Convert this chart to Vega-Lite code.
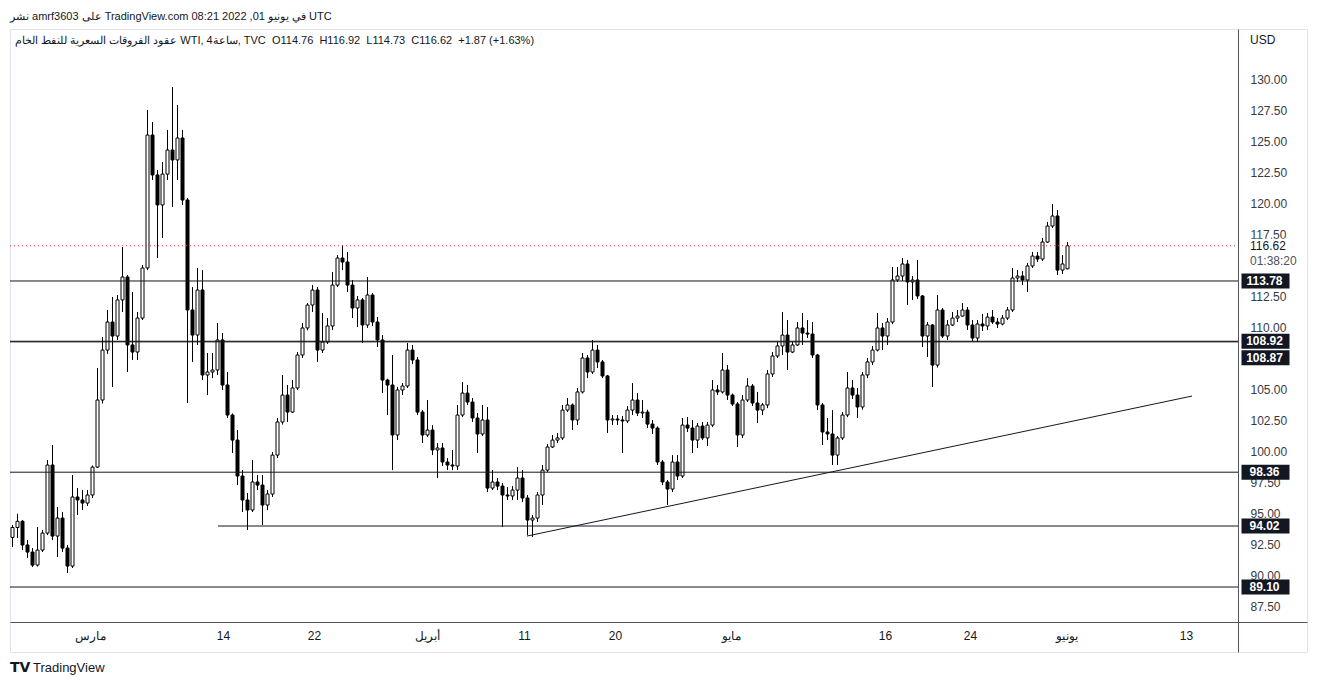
{
  "$schema": "https://vega.github.io/schema/vega-lite/v6.json",
  "width": 1297,
  "height": 623,
  "autosize": {"type": "none"},
  "padding": {"left": 10, "top": 29, "right": 11, "bottom": 34},
  "background": "#ffffff",
  "config": {
    "view": {"stroke": "#e0e3eb", "strokeWidth": 1},
    "font": "Liberation Sans",
    "text": {"font": "Liberation Sans"},
    "axis": {"labelOverlap": false, "labelBound": false}
  },
  "title": {
    "text": "نشر amrf3603 على TradingView.com في يونيو 01, 2022 08:21 UTC",
    "anchor": "start",
    "frame": "group",
    "fontSize": 11,
    "fontWeight": "normal",
    "font": "Liberation Sans",
    "color": "#131722",
    "offset": -2,
    "baseline": "alphabetic"
  },
  "datasets": {
    "candles": [
      {"t":0,"o":93.1,"h":94.1,"l":92.32,"c":93.9},
      {"t":1,"o":93.9,"h":95.0,"l":93.05,"c":94.4},
      {"t":2,"o":94.4,"h":94.5,"l":92.08,"c":92.49},
      {"t":3,"o":92.49,"h":92.89,"l":91.44,"c":91.92},
      {"t":4,"o":91.92,"h":92.24,"l":90.71,"c":90.87},
      {"t":5,"o":90.87,"h":93.94,"l":90.75,"c":92.08},
      {"t":6,"o":92.08,"h":93.7,"l":91.92,"c":93.45},
      {"t":7,"o":93.45,"h":99.34,"l":93.29,"c":98.94},
      {"t":8,"o":98.94,"h":100.55,"l":92.89,"c":93.21},
      {"t":9,"o":93.21,"h":95.55,"l":91.52,"c":94.66},
      {"t":10,"o":94.66,"h":95.15,"l":91.92,"c":92.24},
      {"t":11,"o":92.24,"h":92.49,"l":90.23,"c":90.79},
      {"t":12,"o":90.79,"h":98.13,"l":90.63,"c":96.36},
      {"t":13,"o":96.36,"h":97.08,"l":94.91,"c":96.12},
      {"t":14,"o":96.12,"h":96.92,"l":95.31,"c":95.87},
      {"t":15,"o":95.87,"h":96.92,"l":95.63,"c":96.52},
      {"t":16,"o":96.52,"h":98.9,"l":96.28,"c":98.77},
      {"t":17,"o":98.77,"h":106.76,"l":98.7,"c":104.18},
      {"t":18,"o":104.18,"h":109.26,"l":103.9,"c":108.21},
      {"t":19,"o":108.21,"h":111.44,"l":107.9,"c":110.47},
      {"t":20,"o":110.47,"h":112.49,"l":105.23,"c":109.34},
      {"t":21,"o":109.34,"h":112.65,"l":109.02,"c":112.25},
      {"t":22,"o":112.25,"h":116.52,"l":111.28,"c":114.1},
      {"t":23,"o":114.1,"h":114.26,"l":106.44,"c":108.62},
      {"t":24,"o":108.62,"h":112.89,"l":107.41,"c":108.05},
      {"t":25,"o":108.05,"h":111.28,"l":107.41,"c":110.79},
      {"t":26,"o":110.79,"h":115.07,"l":110.63,"c":114.83},
      {"t":27,"o":114.83,"h":127.57,"l":114.66,"c":125.55},
      {"t":28,"o":125.55,"h":126.6,"l":121.92,"c":122.33},
      {"t":29,"o":122.33,"h":122.73,"l":115.63,"c":119.91},
      {"t":30,"o":119.91,"h":123.37,"l":117.25,"c":122.4},
      {"t":31,"o":122.4,"h":125.96,"l":121.92,"c":124.34},
      {"t":32,"o":124.34,"h":129.42,"l":119.75,"c":123.54},
      {"t":33,"o":123.54,"h":127.97,"l":121.92,"c":125.31},
      {"t":34,"o":125.31,"h":125.96,"l":119.91,"c":120.31},
      {"t":35,"o":120.31,"h":120.47,"l":103.94,"c":111.44},
      {"t":36,"o":111.44,"h":113.29,"l":107.25,"c":109.42},
      {"t":37,"o":109.42,"h":114.83,"l":108.62,"c":113.05},
      {"t":38,"o":113.05,"h":114.66,"l":105.79,"c":106.2},
      {"t":39,"o":106.2,"h":107.97,"l":104.58,"c":106.44},
      {"t":40,"o":106.44,"h":107.97,"l":105.95,"c":106.6},
      {"t":41,"o":106.6,"h":110.39,"l":106.2,"c":109.02},
      {"t":42,"o":109.02,"h":109.58,"l":104.99,"c":105.39},
      {"t":43,"o":105.39,"h":106.44,"l":102.73,"c":102.97},
      {"t":44,"o":102.97,"h":103.1,"l":99.91,"c":100.95},
      {"t":45,"o":100.95,"h":101.76,"l":97.32,"c":98.05},
      {"t":46,"o":98.05,"h":98.53,"l":95.15,"c":96.12},
      {"t":47,"o":96.12,"h":96.68,"l":93.7,"c":95.31},
      {"t":48,"o":95.31,"h":99.34,"l":95.15,"c":97.57},
      {"t":49,"o":97.57,"h":98.13,"l":96.92,"c":97.32},
      {"t":50,"o":97.32,"h":98.13,"l":94.1,"c":95.71},
      {"t":51,"o":95.71,"h":96.92,"l":95.3,"c":96.6},
      {"t":52,"o":96.6,"h":99.99,"l":96.36,"c":99.74},
      {"t":53,"o":99.74,"h":102.73,"l":99.5,"c":102.41},
      {"t":54,"o":102.41,"h":106.2,"l":102.2,"c":104.58},
      {"t":55,"o":104.58,"h":105.39,"l":102.41,"c":103.21},
      {"t":56,"o":103.21,"h":105.79,"l":103.13,"c":105.15},
      {"t":57,"o":105.15,"h":108.05,"l":104.99,"c":107.81},
      {"t":58,"o":107.81,"h":110.39,"l":107.57,"c":109.99},
      {"t":59,"o":109.99,"h":112.0,"l":109.8,"c":111.84},
      {"t":60,"o":111.84,"h":113.45,"l":111.28,"c":113.05},
      {"t":61,"o":113.05,"h":113.29,"l":107.25,"c":108.21},
      {"t":62,"o":108.21,"h":111.2,"l":107.97,"c":108.86},
      {"t":63,"o":108.86,"h":110.79,"l":108.7,"c":110.15},
      {"t":64,"o":110.15,"h":114.5,"l":109.83,"c":113.45},
      {"t":65,"o":113.45,"h":115.87,"l":113.3,"c":115.63},
      {"t":66,"o":115.63,"h":116.68,"l":114.66,"c":115.31},
      {"t":67,"o":115.31,"h":116.12,"l":112.89,"c":113.45},
      {"t":68,"o":113.45,"h":113.86,"l":110.79,"c":111.6},
      {"t":69,"o":111.6,"h":112.57,"l":110.07,"c":112.25},
      {"t":70,"o":112.25,"h":112.41,"l":108.78,"c":110.23},
      {"t":71,"o":110.23,"h":114.1,"l":110.0,"c":112.65},
      {"t":72,"o":112.65,"h":112.81,"l":110.15,"c":110.47},
      {"t":73,"o":110.47,"h":110.87,"l":108.45,"c":109.02},
      {"t":74,"o":109.02,"h":109.42,"l":104.74,"c":105.79},
      {"t":75,"o":105.79,"h":105.9,"l":102.97,"c":105.39},
      {"t":76,"o":105.39,"h":107.81,"l":98.53,"c":101.36},
      {"t":77,"o":101.36,"h":105.23,"l":100.95,"c":104.99},
      {"t":78,"o":104.99,"h":105.55,"l":104.58,"c":105.31},
      {"t":79,"o":105.31,"h":108.78,"l":105.15,"c":108.21},
      {"t":80,"o":108.21,"h":108.62,"l":107.08,"c":107.41},
      {"t":81,"o":107.41,"h":107.65,"l":102.97,"c":103.21},
      {"t":82,"o":103.21,"h":103.37,"l":100.71,"c":101.36},
      {"t":83,"o":101.36,"h":104.18,"l":101.2,"c":101.76},
      {"t":84,"o":101.76,"h":102.16,"l":99.74,"c":100.15},
      {"t":85,"o":100.15,"h":100.71,"l":97.89,"c":100.31},
      {"t":86,"o":100.31,"h":100.71,"l":98.86,"c":99.18},
      {"t":87,"o":99.18,"h":99.5,"l":98.53,"c":98.94},
      {"t":88,"o":98.94,"h":100.15,"l":98.53,"c":98.86},
      {"t":89,"o":98.86,"h":103.78,"l":98.53,"c":102.97},
      {"t":90,"o":102.97,"h":105.63,"l":102.8,"c":104.74},
      {"t":91,"o":104.74,"h":105.39,"l":103.78,"c":104.02},
      {"t":92,"o":104.02,"h":104.34,"l":102.41,"c":102.73},
      {"t":93,"o":102.73,"h":103.13,"l":99.91,"c":101.44},
      {"t":94,"o":101.44,"h":103.78,"l":101.28,"c":102.57},
      {"t":95,"o":102.57,"h":103.62,"l":96.76,"c":97.08},
      {"t":96,"o":97.08,"h":98.53,"l":96.92,"c":97.57},
      {"t":97,"o":97.57,"h":97.89,"l":96.92,"c":97.24},
      {"t":98,"o":97.24,"h":97.49,"l":93.94,"c":96.52},
      {"t":99,"o":96.52,"h":97.16,"l":96.12,"c":96.44},
      {"t":100,"o":96.44,"h":97.24,"l":96.12,"c":96.92},
      {"t":101,"o":96.92,"h":98.77,"l":96.12,"c":97.89},
      {"t":102,"o":97.89,"h":98.53,"l":95.95,"c":96.28},
      {"t":103,"o":96.28,"h":96.52,"l":93.29,"c":94.5},
      {"t":104,"o":94.5,"h":94.91,"l":93.13,"c":94.66},
      {"t":105,"o":94.66,"h":96.76,"l":94.34,"c":96.52},
      {"t":106,"o":96.52,"h":98.94,"l":95.71,"c":98.53},
      {"t":107,"o":98.53,"h":100.63,"l":98.37,"c":100.39},
      {"t":108,"o":100.39,"h":101.36,"l":100.31,"c":100.95},
      {"t":109,"o":100.95,"h":101.52,"l":100.71,"c":101.12},
      {"t":110,"o":101.12,"h":103.78,"l":100.95,"c":103.37},
      {"t":111,"o":103.37,"h":104.34,"l":103.21,"c":103.78},
      {"t":112,"o":103.78,"h":103.9,"l":101.76,"c":102.57},
      {"t":113,"o":102.57,"h":105.15,"l":102.16,"c":104.83},
      {"t":114,"o":104.83,"h":107.97,"l":104.7,"c":107.57},
      {"t":115,"o":107.57,"h":107.81,"l":105.95,"c":106.44},
      {"t":116,"o":106.44,"h":109.02,"l":106.28,"c":108.21},
      {"t":117,"o":108.21,"h":108.62,"l":106.76,"c":107.25},
      {"t":118,"o":107.25,"h":107.41,"l":105.95,"c":106.12},
      {"t":119,"o":106.12,"h":106.2,"l":101.52,"c":102.57},
      {"t":120,"o":102.57,"h":102.97,"l":102.16,"c":102.65},
      {"t":121,"o":102.65,"h":102.97,"l":102.16,"c":102.57},
      {"t":122,"o":102.57,"h":102.89,"l":99.91,"c":102.49},
      {"t":123,"o":102.49,"h":103.69,"l":102.33,"c":103.37},
      {"t":124,"o":103.37,"h":105.55,"l":102.97,"c":104.18},
      {"t":125,"o":104.18,"h":104.74,"l":102.89,"c":103.13},
      {"t":126,"o":103.13,"h":104.18,"l":102.73,"c":103.21},
      {"t":127,"o":103.21,"h":103.4,"l":101.92,"c":102.24},
      {"t":128,"o":102.24,"h":102.57,"l":101.44,"c":101.92},
      {"t":129,"o":101.92,"h":102.05,"l":98.94,"c":99.18},
      {"t":130,"o":99.18,"h":99.34,"l":97.32,"c":97.57},
      {"t":131,"o":97.57,"h":97.73,"l":95.71,"c":97.0},
      {"t":132,"o":97.0,"h":99.74,"l":96.76,"c":99.18},
      {"t":133,"o":99.18,"h":99.74,"l":97.73,"c":98.05},
      {"t":134,"o":98.05,"h":102.73,"l":97.89,"c":102.16},
      {"t":135,"o":102.16,"h":102.81,"l":101.6,"c":101.92},
      {"t":136,"o":101.92,"h":102.57,"l":99.91,"c":100.95},
      {"t":137,"o":100.95,"h":102.33,"l":100.31,"c":102.08},
      {"t":138,"o":102.08,"h":102.41,"l":100.95,"c":101.12},
      {"t":139,"o":101.12,"h":102.41,"l":100.47,"c":102.16},
      {"t":140,"o":102.16,"h":105.79,"l":102.0,"c":104.99},
      {"t":141,"o":104.99,"h":105.39,"l":104.58,"c":104.83},
      {"t":142,"o":104.83,"h":107.97,"l":104.7,"c":106.6},
      {"t":143,"o":106.6,"h":107.0,"l":104.18,"c":104.58},
      {"t":144,"o":104.58,"h":104.7,"l":103.7,"c":103.86},
      {"t":145,"o":103.86,"h":104.02,"l":100.39,"c":101.36},
      {"t":146,"o":101.36,"h":104.58,"l":101.12,"c":104.18},
      {"t":147,"o":104.18,"h":105.95,"l":104.02,"c":105.31},
      {"t":148,"o":105.31,"h":105.47,"l":103.7,"c":103.94},
      {"t":149,"o":103.94,"h":104.83,"l":102.33,"c":103.37},
      {"t":150,"o":103.37,"h":103.94,"l":102.97,"c":103.78},
      {"t":151,"o":103.78,"h":106.6,"l":103.53,"c":106.28},
      {"t":152,"o":106.28,"h":108.05,"l":106.04,"c":107.73},
      {"t":153,"o":107.73,"h":108.86,"l":107.57,"c":108.54},
      {"t":154,"o":108.54,"h":111.28,"l":107.81,"c":109.42},
      {"t":155,"o":109.42,"h":110.63,"l":106.6,"c":108.05},
      {"t":156,"o":108.05,"h":108.86,"l":107.97,"c":108.62},
      {"t":157,"o":108.62,"h":110.47,"l":108.54,"c":109.99},
      {"t":158,"o":109.99,"h":111.2,"l":108.62,"c":109.58},
      {"t":159,"o":109.58,"h":110.63,"l":109.18,"c":109.5},
      {"t":160,"o":109.5,"h":110.47,"l":107.57,"c":107.81},
      {"t":161,"o":107.81,"h":107.9,"l":103.37,"c":103.78},
      {"t":162,"o":103.78,"h":103.94,"l":100.55,"c":101.6},
      {"t":163,"o":101.6,"h":102.73,"l":100.95,"c":101.44},
      {"t":164,"o":101.44,"h":103.37,"l":98.94,"c":99.74},
      {"t":165,"o":99.74,"h":101.28,"l":98.94,"c":101.12},
      {"t":166,"o":101.12,"h":103.21,"l":100.95,"c":102.97},
      {"t":167,"o":102.97,"h":106.44,"l":102.8,"c":105.15},
      {"t":168,"o":105.15,"h":105.79,"l":104.26,"c":104.58},
      {"t":169,"o":104.58,"h":105.15,"l":102.73,"c":103.62},
      {"t":170,"o":103.62,"h":106.44,"l":103.4,"c":106.2},
      {"t":171,"o":106.2,"h":107.57,"l":105.95,"c":107.25},
      {"t":172,"o":107.25,"h":108.54,"l":107.0,"c":108.21},
      {"t":173,"o":108.21,"h":111.2,"l":108.1,"c":109.99},
      {"t":174,"o":109.99,"h":110.39,"l":108.21,"c":109.34},
      {"t":175,"o":109.34,"h":110.79,"l":108.62,"c":110.47},
      {"t":176,"o":110.47,"h":114.91,"l":110.3,"c":113.86},
      {"t":177,"o":113.86,"h":114.91,"l":113.7,"c":114.18},
      {"t":178,"o":114.18,"h":115.63,"l":113.78,"c":115.15},
      {"t":179,"o":115.15,"h":115.47,"l":111.84,"c":113.7},
      {"t":180,"o":113.7,"h":114.18,"l":112.25,"c":113.86},
      {"t":181,"o":113.86,"h":115.47,"l":112.33,"c":112.57},
      {"t":182,"o":112.57,"h":112.65,"l":108.45,"c":109.34},
      {"t":183,"o":109.34,"h":110.47,"l":107.65,"c":110.23},
      {"t":184,"o":110.23,"h":110.31,"l":105.23,"c":107.0},
      {"t":185,"o":107.0,"h":112.65,"l":106.8,"c":111.44},
      {"t":186,"o":111.44,"h":111.6,"l":109.18,"c":109.34},
      {"t":187,"o":109.34,"h":110.63,"l":109.02,"c":110.23},
      {"t":188,"o":110.23,"h":111.28,"l":110.15,"c":110.79},
      {"t":189,"o":110.79,"h":111.44,"l":110.47,"c":110.95},
      {"t":190,"o":110.95,"h":112.0,"l":110.9,"c":111.44},
      {"t":191,"o":111.44,"h":111.68,"l":109.83,"c":110.23},
      {"t":192,"o":110.23,"h":110.63,"l":108.86,"c":109.18},
      {"t":193,"o":109.18,"h":110.63,"l":108.86,"c":110.31},
      {"t":194,"o":110.31,"h":111.12,"l":109.74,"c":110.15},
      {"t":195,"o":110.15,"h":111.2,"l":109.83,"c":110.87},
      {"t":196,"o":110.87,"h":111.44,"l":110.31,"c":110.47},
      {"t":197,"o":110.47,"h":110.79,"l":109.99,"c":110.31},
      {"t":198,"o":110.31,"h":111.04,"l":110.2,"c":110.79},
      {"t":199,"o":110.79,"h":111.68,"l":110.63,"c":111.44},
      {"t":200,"o":111.44,"h":114.83,"l":111.28,"c":114.02},
      {"t":201,"o":114.02,"h":114.66,"l":113.7,"c":114.18},
      {"t":202,"o":114.18,"h":114.58,"l":113.45,"c":113.86},
      {"t":203,"o":113.86,"h":115.23,"l":112.89,"c":114.99},
      {"t":204,"o":114.99,"h":116.12,"l":114.83,"c":115.79},
      {"t":205,"o":115.79,"h":116.12,"l":115.31,"c":115.55},
      {"t":206,"o":115.55,"h":117.25,"l":115.39,"c":116.92},
      {"t":207,"o":116.92,"h":118.54,"l":116.85,"c":118.21},
      {"t":208,"o":118.21,"h":119.99,"l":118.05,"c":119.02},
      {"t":209,"o":119.02,"h":119.5,"l":114.26,"c":114.66},
      {"t":210,"o":114.66,"h":115.87,"l":114.34,"c":115.15},
      {"t":211,"o":114.76,"h":116.92,"l":114.73,"c":116.62}
    ],
    "levels": [{"p":113.78},{"p":108.92},{"p":108.87},{"p":98.36},{"p":89.10}],
    "support": [{"p":94.02}],
    "trend": [{"t":102.9,"p":93.21},{"t":235.9,"p":104.5}],
    "tags": [{"p":113.78},{"p":108.92},{"p":98.36},{"p":94.02},{"p":89.10}],
    "tags2": [{"p":108.87}],
    "last": [{"p":116.62,"lbl":"116.62","timer":"01:38:20"}],
    "one": [{}]
  },
  "layer": [
    {
      "data": {"name": "candles"},
      "mark": {"type": "rule", "color": "#000000", "strokeWidth": 1},
      "encoding": {
        "x": {
          "field": "t", "type": "quantitative",
          "scale": {"domain": [-0.5, 258.9], "nice": false, "zero": false, "padding": 0},
          "axis": {
            "orient": "bottom", "offset": -30, "title": null,
            "values": [15.5, 42.1, 60.3, 82.9, 102.3, 120.5, 143.7, 174.5, 191.5, 210.7, 234.7],
            "tickCount": 40,
            "labelExpr": "datum.value == 15.5 ? 'مارس' : datum.value == 42.1 ? '14' : datum.value == 60.3 ? '22' : datum.value == 82.9 ? 'أبريل' : datum.value == 102.3 ? '11' : datum.value == 120.5 ? '20' : datum.value == 143.7 ? 'مايو' : datum.value == 174.5 ? '16' : datum.value == 191.5 ? '24' : datum.value == 210.7 ? 'يونيو' : '13'",
            "ticks": false, "tickSize": 0, "grid": false,
            "domainColor": "#50535e", "domainWidth": 1,
            "labelColor": "#131722", "labelFontSize": 12, "labelFont": "Liberation Sans",
            "labelPadding": 8, "labelFlush": false, "labelOverlap": false, "labelBound": false
          }
        },
        "y": {
          "field": "l", "type": "quantitative",
          "scale": {"domain": [83.86, 134.10], "nice": false, "zero": false},
          "axis": {
            "orient": "right", "offset": -69, "title": null,
            "values": [87.5, 90, 92.5, 95, 97.5, 100, 102.5, 105, 110, 112.5, 115, 117.5, 120, 122.5, 125, 127.5, 130],
            "tickCount": 40,
            "format": ".2f",
            "ticks": false, "tickSize": 0, "grid": false,
            "domainColor": "#50535e", "domainWidth": 1,
            "labelColor": "#363a45", "labelFontSize": 12, "labelFont": "Liberation Sans",
            "labelPadding": 12, "labelFlush": false, "labelOverlap": false, "labelBound": false
          }
        },
        "y2": {"field": "h"}
      }
    },
    {
      "data": {"name": "candles"},
      "mark": {"type": "bar", "width": 3, "stroke": "#000000", "strokeWidth": 1},
      "encoding": {
        "x": {"field": "t", "type": "quantitative"},
        "y": {"field": "o", "type": "quantitative"},
        "y2": {"field": "c"},
        "fill": {"condition": {"test": "datum.c >= datum.o", "value": "#ffffff"}, "value": "#000000"}
      }
    },
    {
      "data": {"name": "last"},
      "mark": {"type": "rule", "color": "#f23645", "strokeWidth": 1, "strokeDash": [1, 3]},
      "encoding": {"x": {"datum": -0.5}, "x2": {"datum": 245.1}, "y": {"field": "p", "type": "quantitative"}}
    },
    {
      "data": {"name": "levels"},
      "mark": {"type": "rule", "color": "#131722", "strokeWidth": 1},
      "encoding": {"x": {"datum": -0.5}, "x2": {"datum": 245.1}, "y": {"field": "p", "type": "quantitative"}}
    },
    {
      "data": {"name": "support"},
      "mark": {"type": "rule", "color": "#131722", "strokeWidth": 1},
      "encoding": {"x": {"datum": 41.1}, "x2": {"datum": 245.1}, "y": {"field": "p", "type": "quantitative"}}
    },
    {
      "data": {"name": "trend"},
      "mark": {"type": "line", "color": "#131722", "strokeWidth": 1},
      "encoding": {"x": {"field": "t", "type": "quantitative"}, "y": {"field": "p", "type": "quantitative"}}
    },
    {
      "data": {"name": "last"},
      "mark": {"type": "tick", "orient": "horizontal", "color": "#ffffff", "opacity": 1, "size": 60, "thickness": 32, "yOffset": 9},
      "encoding": {"x": {"datum": 251.9}, "y": {"field": "p", "type": "quantitative"}}
    },
    {
      "data": {"name": "last"},
      "mark": {"type": "text", "align": "left", "baseline": "middle", "fontSize": 12, "color": "#131722", "font": "Liberation Sans"},
      "encoding": {"x": {"datum": 247.5}, "y": {"field": "p", "type": "quantitative"}, "text": {"field": "lbl"}}
    },
    {
      "data": {"name": "last"},
      "mark": {"type": "text", "align": "left", "baseline": "middle", "fontSize": 12, "color": "#50535e", "dy": 15, "font": "Liberation Sans"},
      "encoding": {"x": {"datum": 247.5}, "y": {"field": "p", "type": "quantitative"}, "text": {"field": "timer"}}
    },
    {
      "data": {"name": "tags"},
      "mark": {"type": "tick", "orient": "horizontal", "color": "#131722", "opacity": 1, "size": 48, "thickness": 15},
      "encoding": {"x": {"datum": 250.6}, "y": {"field": "p", "type": "quantitative"}}
    },
    {
      "data": {"name": "tags"},
      "mark": {"type": "text", "align": "center", "baseline": "middle", "fontSize": 12, "fontWeight": "bold", "color": "#ffffff", "font": "Liberation Sans"},
      "encoding": {"x": {"datum": 250.4}, "y": {"field": "p", "type": "quantitative"}, "text": {"field": "p", "type": "quantitative", "format": ".2f"}}
    },
    {
      "data": {"name": "tags2"},
      "mark": {"type": "tick", "orient": "horizontal", "color": "#131722", "opacity": 1, "size": 48, "thickness": 15, "yOffset": 16},
      "encoding": {"x": {"datum": 250.6}, "y": {"field": "p", "type": "quantitative"}}
    },
    {
      "data": {"name": "tags2"},
      "mark": {"type": "text", "align": "center", "baseline": "middle", "fontSize": 12, "fontWeight": "bold", "color": "#ffffff", "dy": 16, "font": "Liberation Sans"},
      "encoding": {"x": {"datum": 250.4}, "y": {"field": "p", "type": "quantitative"}, "text": {"field": "p", "type": "quantitative", "format": ".2f"}}
    },
    {
      "data": {"name": "one"},
      "mark": {"type": "text", "align": "left", "baseline": "middle", "fontSize": 12, "color": "#131722", "font": "Liberation Sans"},
      "encoding": {"x": {"datum": 247.5}, "y": {"datum": 133.21}, "text": {"value": "USD"}}
    },
    {
      "data": {"name": "one"},
      "mark": {"type": "text", "align": "left", "baseline": "middle", "fontSize": 11, "color": "#131722", "font": "Liberation Sans"},
      "encoding": {"x": {"datum": 0.5}, "y": {"datum": 133.13}, "text": {"value": "عقود الفروقات السعرية للنفط الخام WTI, 4ساعة, TVC \u00a0O114.76 \u00a0H116.92 \u00a0L114.73 \u00a0C116.62 \u00a0+1.87 (+1.63%)"}}
    },
    {
      "data": {"name": "one"},
      "mark": {"type": "text", "align": "left", "baseline": "middle", "fontSize": 14, "fontWeight": "bold", "color": "#131722", "font": "DejaVu Sans"},
      "encoding": {"x": {"datum": -0.5}, "y": {"datum": 82.57}, "text": {"value": "TV"}}
    },
    {
      "data": {"name": "one"},
      "mark": {"type": "text", "align": "left", "baseline": "middle", "fontSize": 13, "color": "#131722", "font": "Liberation Sans"},
      "encoding": {"x": {"datum": 4.1}, "y": {"datum": 82.57}, "text": {"value": "TradingView"}}
    }
  ]
}
